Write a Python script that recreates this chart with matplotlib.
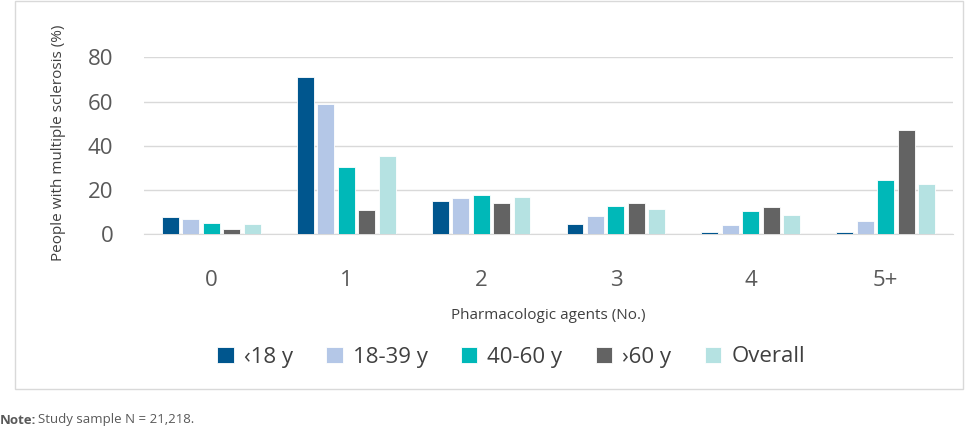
import numpy as np
import matplotlib
matplotlib.use("Agg")
import matplotlib.pyplot as plt
from matplotlib.patches import Rectangle

plt.rcParams['font.family'] = ['Open Sans', 'DejaVu Sans']

categories = ["0", "1", "2", "3", "4", "5+"]
series_names = ["\u203918 y", "18-39 y", "40-60 y", "\u203a60 y", "Overall"]
under_18 = [7.7, 71.1, 14.9, 4.8, 1.0, 1.0]
age_18_39 = [6.8, 58.8, 16.4, 8.1, 4.2, 6.2]
age_40_60 = [5.0, 30.3, 17.8, 12.9, 10.5, 24.5]
over_60 = [2.3, 11.0, 14.0, 14.0, 12.5, 47.1]
overall = [4.8, 35.5, 16.9, 11.4, 8.7, 22.6]
yticks = [0, 20, 40, 60, 80]

series = [under_18, age_18_39, age_40_60, over_60, overall]
colors = ["#00568E", "#B4C7E7", "#00B8B8", "#636363", "#B5E2E2"]

fig = plt.figure(figsize=(9.65, 4.29), dpi=100)
W, H = 965, 429

# outer frame
fig.patches.append(Rectangle((15 / W, 1 - 389 / H), (963 - 15) / W, 388 / H,
                             transform=fig.transFigure, fill=False,
                             edgecolor="#D9D9D9", linewidth=1))

ax = fig.add_axes([144 / W, 1 - 234.3 / H, (953 - 144) / W, 177 / H])

x = np.arange(len(categories))
pitch = 0.152
width = 0.125
for i, (vals, name, c) in enumerate(zip(series, series_names, colors)):
    ax.bar(x + (i - 2) * pitch, vals, width=width, color=c, label=name,
           edgecolor="white", linewidth=0.6, zorder=3)

ax.set_xlim(-0.5, len(categories) - 0.5)
ax.set_ylim(0, 80)
ax.set_yticks(yticks)
ax.set_xticks(x)
ax.set_xticklabels(categories)
ax.grid(axis="y", color="#D9D9D9", linewidth=1, zorder=0)
for s in ["top", "right", "left"]:
    ax.spines[s].set_visible(False)
ax.spines["bottom"].set_color("#D9D9D9")
ax.tick_params(axis="both", length=0, labelsize=16, labelcolor="#595959")
ax.tick_params(axis="y", pad=22)
ax.tick_params(axis="x", pad=26)

ax.set_xlabel("Pharmacologic agents (No.)", fontsize=11, color="#404040", labelpad=12)
fig.text(58 / W, 1 - 143 / H, "People with multiple sclerosis (%)", rotation=90,
         ha="center", va="center", fontsize=11, color="#404040")

fig.legend(loc="center", bbox_to_anchor=(511 / W, 1 - 357 / H), ncol=5,
           frameon=False, fontsize=16, handlelength=0.75, handleheight=0.75,
           handletextpad=0.45, columnspacing=1.5, labelcolor="#404040")

fig.text(0, 1 - 420 / H, "Note:", fontsize=9.5, fontweight="bold",
         color="#595959", va="center")
fig.text(38 / W, 1 - 420 / H, "Study sample N = 21,218.", fontsize=9.5,
         color="#595959", va="center")

fig.savefig("out.png", dpi=100)
